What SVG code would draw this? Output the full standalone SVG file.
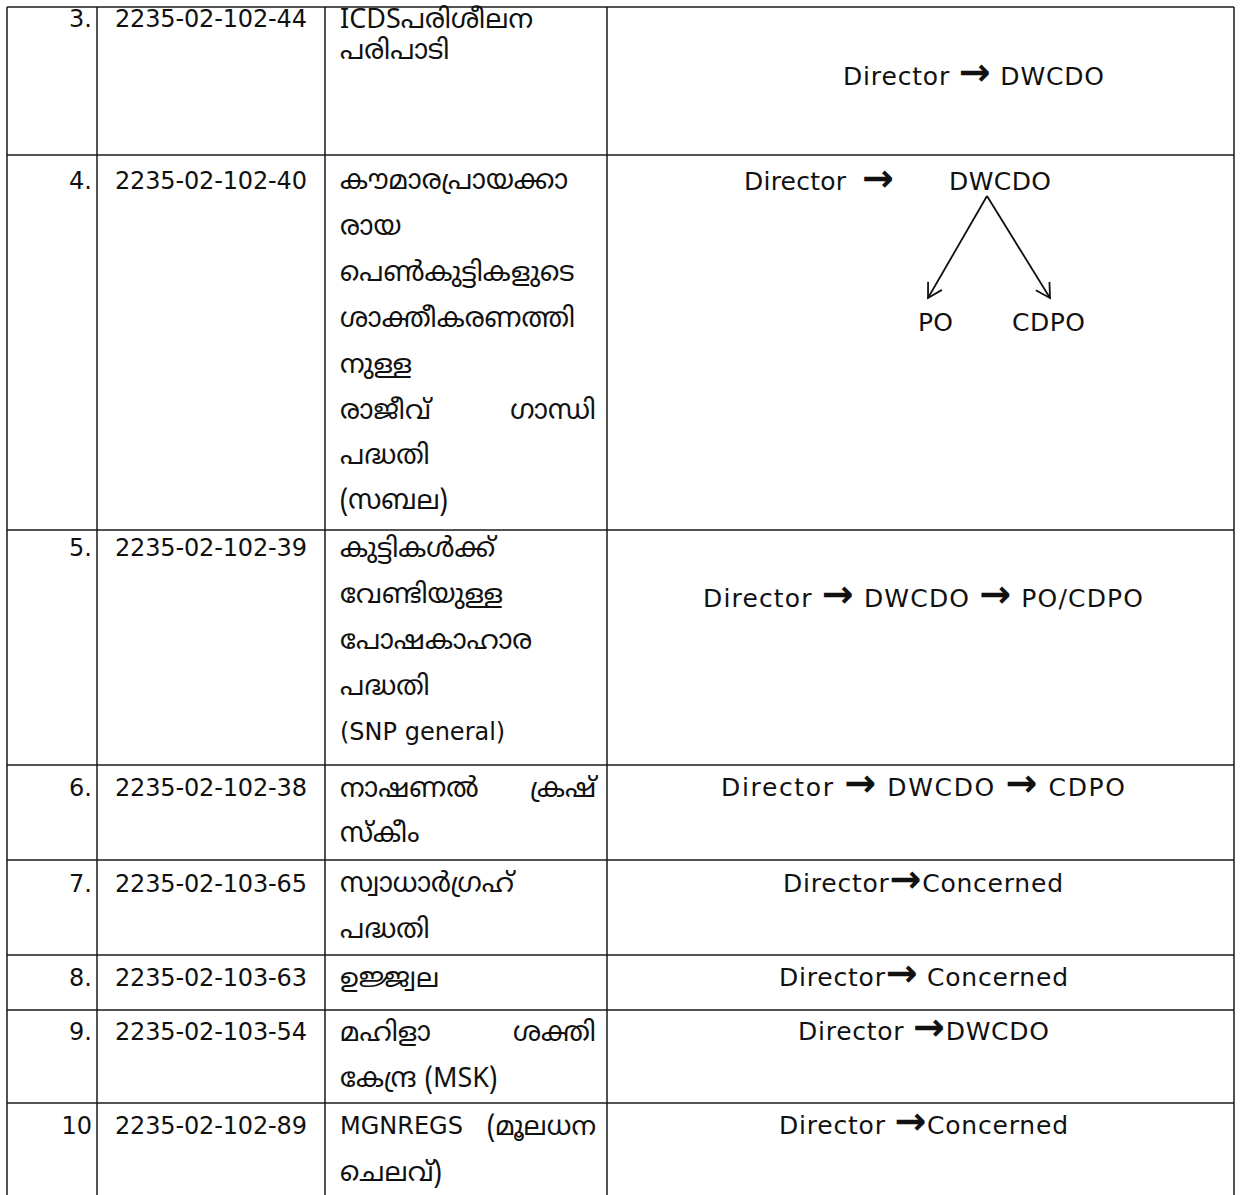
<svg xmlns="http://www.w3.org/2000/svg" width="1240" height="1195" viewBox="0 0 1240 1195">
<style>
.grid{stroke:#1a1a1a;stroke-width:1.5;fill:none}
.t{font-family:"DejaVu Sans","Open Sans",sans-serif;font-size:24px;fill:#111}
.r{font-family:"DejaVu Sans","Open Sans",sans-serif;font-size:25px;fill:#111}
.ar{font-size:38px;font-weight:bold}
.m{font-family:"Noto Sans Malayalam","Noto Sans","DejaVu Sans",sans-serif;font-size:27px;fill:#111}
.num{text-anchor:end}
.c{stroke:#111;stroke-width:1.8;fill:none}
</style>
<defs>
<marker id="ah" viewBox="0 0 20 20" refX="18" refY="10" markerWidth="20" markerHeight="20" markerUnits="userSpaceOnUse" orient="auto">
<path d="M4,2 L18,10 L4,18" fill="none" stroke="#111" stroke-width="1.8"/>
</marker>
</defs>
<rect width="1240" height="1195" fill="#fff"/>
<g id="grid" class="grid">
<line x1="7" y1="7" x2="1234" y2="7"/>
<line x1="7" y1="155" x2="1234" y2="155"/>
<line x1="7" y1="530" x2="1234" y2="530"/>
<line x1="7" y1="765" x2="1234" y2="765"/>
<line x1="7" y1="860" x2="1234" y2="860"/>
<line x1="7" y1="955" x2="1234" y2="955"/>
<line x1="7" y1="1010" x2="1234" y2="1010"/>
<line x1="7" y1="1103" x2="1234" y2="1103"/>
<line x1="7" y1="7" x2="7" y2="1195"/>
<line x1="97" y1="7" x2="97" y2="1195"/>
<line x1="325" y1="7" x2="325" y2="1195"/>
<line x1="607" y1="7" x2="607" y2="1195"/>
<line x1="1234" y1="7" x2="1234" y2="1195"/>
</g>
<g id="row3">
<text class="t num" x="92" y="27">3.</text>
<text class="t" x="115" y="27" textLength="192">2235-02-102-44</text>
<text class="m" x="340" y="28">ICDSപരിശീലന</text>
<text class="m" x="340" y="59">പരിപാടി</text>
<text class="r" x="843" y="85" textLength="261">Director <tspan class="ar">→</tspan> DWCDO</text>
</g>
<g id="row4">
<text class="t num" x="92" y="189">4.</text>
<text class="t" x="115" y="189" textLength="192">2235-02-102-40</text>
<text class="m" x="340" y="189">കൗമാരപ്രായക്കാ</text>
<text class="m" x="340" y="235">രായ</text>
<text class="m" x="340" y="281">പെൺകുട്ടികളുടെ</text>
<text class="m" x="340" y="327">ശാക്തീകരണത്തി</text>
<text class="m" x="340" y="373">നുള്ള</text>
<text class="m" x="340" y="419">രാജീവ്</text>
<text class="m" x="596" y="419" text-anchor="end">ഗാന്ധി</text>
<text class="m" x="340" y="464">പദ്ധതി</text>
<text class="m" x="340" y="509">(സബല)</text>
<g id="n-director4"><text class="r" x="744" y="190" textLength="102">Director</text></g>
<text class="r ar" x="862" y="191">→</text>
<g id="n-dwcdo4"><text class="r" x="949" y="190" textLength="102">DWCDO</text></g>
<g id="n-po4"><text class="r" x="918" y="331" textLength="35">PO</text></g>
<g id="n-cdpo4"><text class="r" x="1012" y="331" textLength="73">CDPO</text></g>
</g>
<g id="connectors">
<line class="c" x1="987" y1="196" x2="928" y2="298" marker-end="url(#ah)"/>
<line class="c" x1="987" y1="196" x2="1050" y2="298" marker-end="url(#ah)"/>
</g>
<g id="row5">
<text class="t num" x="92" y="556">5.</text>
<text class="t" x="115" y="556" textLength="192">2235-02-102-39</text>
<text class="m" x="340" y="557">കുട്ടികൾക്ക്</text>
<text class="m" x="340" y="603">വേണ്ടിയുള്ള</text>
<text class="m" x="340" y="649">പോഷകാഹാര</text>
<text class="m" x="340" y="695">പദ്ധതി</text>
<text class="t" x="340" y="740">(SNP general)</text>
<text class="r" x="703" y="607" textLength="440">Director <tspan class="ar">→</tspan> DWCDO <tspan class="ar">→</tspan> PO/CDPO</text>
</g>
<g id="row6">
<text class="t num" x="92" y="796">6.</text>
<text class="t" x="115" y="796" textLength="192">2235-02-102-38</text>
<text class="m" x="340" y="797">നാഷണൽ</text>
<text class="m" x="596" y="797" text-anchor="end">ക്രഷ്</text>
<text class="m" x="340" y="842">സ്കീം</text>
<text class="r" x="721" y="796" textLength="404">Director <tspan class="ar">→</tspan>  DWCDO <tspan class="ar">→</tspan>  CDPO</text>
</g>
<g id="row7">
<text class="t num" x="92" y="892">7.</text>
<text class="t" x="115" y="892" textLength="192">2235-02-103-65</text>
<text class="m" x="340" y="892">സ്വാധാർഗ്രഹ്</text>
<text class="m" x="340" y="938">പദ്ധതി</text>
<text class="r" x="783" y="892" textLength="280">Director<tspan class="ar">→</tspan>Concerned</text>
</g>
<g id="row8">
<text class="t num" x="92" y="986">8.</text>
<text class="t" x="115" y="986" textLength="192">2235-02-103-63</text>
<text class="m" x="340" y="987">ഉജ്ജ്വല</text>
<text class="r" x="779" y="986" textLength="289">Director<tspan class="ar">→</tspan> Concerned</text>
</g>
<g id="row9">
<text class="t num" x="92" y="1040">9.</text>
<text class="t" x="115" y="1040" textLength="192">2235-02-103-54</text>
<text class="m" x="340" y="1041">മഹിളാ</text>
<text class="m" x="596" y="1041" text-anchor="end">ശക്തി</text>
<text class="m" x="340" y="1087">കേന്ദ്ര (MSK)</text>
<text class="r" x="798" y="1040" textLength="251">Director <tspan class="ar">→</tspan>DWCDO</text>
</g>
<g id="row10">
<text class="t num" x="92" y="1134">10</text>
<text class="t" x="115" y="1134" textLength="192">2235-02-102-89</text>
<text class="t" x="340" y="1134">MGNREGS</text>
<text class="m" x="596" y="1135" text-anchor="end">(മൂലധന</text>
<text class="m" x="340" y="1181">ചെലവ്)</text>
<text class="r" x="779" y="1134" textLength="289">Director <tspan class="ar">→</tspan>Concerned</text>
</g>
</svg>
